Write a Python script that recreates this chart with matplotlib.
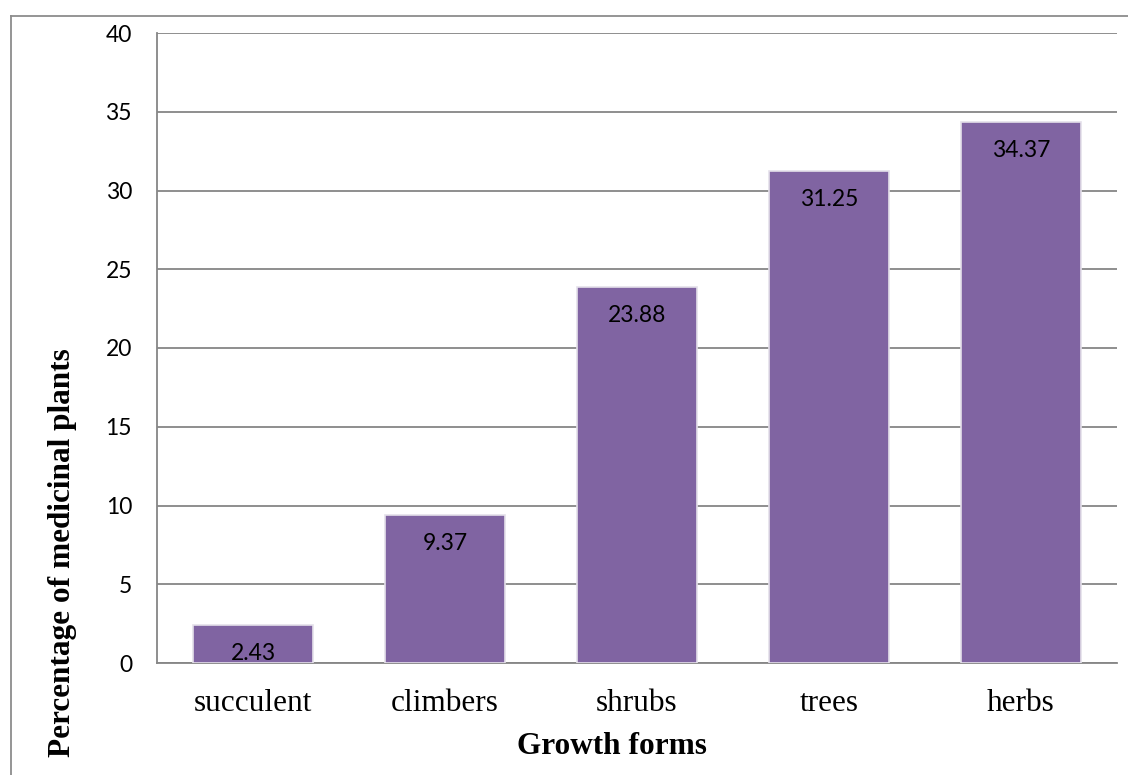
import matplotlib
matplotlib.use("Agg")
import matplotlib.pyplot as plt
from matplotlib.lines import Line2D

categories = ["succulent", "climbers", "shrubs", "trees", "herbs"]
values = [2.43, 9.37, 23.88, 31.25, 34.37]
yticks = [0, 5, 10, 15, 20, 25, 30, 35, 40]

bar_color = "#8064A2"
grid_color = "#868686"

fig = plt.figure(figsize=(11.28, 7.75), dpi=100)
ax = fig.add_axes([157/1128, 1-663/775, (1117-157)/1128, (663-33)/775])

x = range(len(categories))
bars = ax.bar(x, values, width=0.63, color=bar_color, edgecolor="#e4e0ea",
              linewidth=1.2, zorder=3)

ax.set_ylim(0, 40)
ax.set_xlim(-0.5, len(categories) - 0.5)
ax.set_yticks(yticks)
ax.set_yticklabels([str(t) for t in yticks], fontfamily="Lato", fontsize=16.5)
ax.set_xticks(list(x))
ax.set_xticklabels(categories, fontfamily="Liberation Serif", fontsize=22.5)
ax.tick_params(axis="both", length=0)
ax.tick_params(axis="y", pad=18)
ax.tick_params(axis="x", pad=19)

ax.grid(axis="y", color=grid_color, linewidth=1.3, zorder=0)
for s in ["top", "right"]:
    ax.spines[s].set_visible(False)
for s in ["left", "bottom"]:
    ax.spines[s].set_color(grid_color)
    ax.spines[s].set_linewidth(1.3)

for xi, v in zip(x, values):
    ax.annotate(f"{v:.2f}", (xi, v), xytext=(0, -20.5), textcoords="offset points",
                ha="center", va="center", fontfamily="Lato", fontsize=16.5,
                color="black", zorder=4)

fig.text(612/1128, 1-746/775, "Growth forms", ha="center", va="center",
         fontfamily="Liberation Serif", fontweight="bold", fontsize=22.5)
fig.text(63/1128, 1-553/775, "Percentage of medicinal plants", rotation=90,
         ha="center", va="center", fontfamily="Liberation Serif",
         fontweight="bold", fontsize=22.5)

# outer frame (clipped chart border)
fig.add_artist(Line2D([11/1128, 11/1128], [0, 1-16/775], transform=fig.transFigure,
                      color="#8c8c8c", linewidth=1.3))
fig.add_artist(Line2D([11/1128, 1], [1-16/775, 1-16/775], transform=fig.transFigure,
                      color="#8c8c8c", linewidth=1.3))

fig.savefig("out.png", dpi=100)
